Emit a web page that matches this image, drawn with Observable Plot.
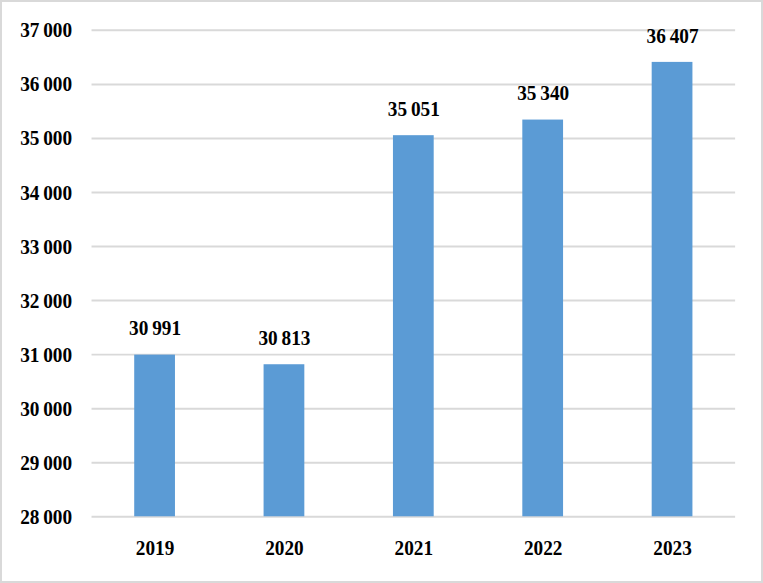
<!DOCTYPE html>
<html>
<head>
<meta charset="utf-8">
<script src="https://cdn.jsdelivr.net/npm/d3@7"></script>
<script src="https://cdn.jsdelivr.net/npm/@observablehq/plot@0.6"></script>
<style>
  html, body { margin: 0; padding: 0; background: #fff; }
  #chart { width: 763px; height: 583px; box-sizing: border-box; border: 2px solid #d9d9d9; position: relative; overflow: hidden; }
  #chart svg { position: absolute; left: -2px; top: -2px; }
</style>
</head>
<body>
<div id="chart"></div>
<script>
const years = ["2019", "2020", "2021", "2022", "2023"];
const values = [30991, 30813, 35051, 35340, 36407];
const yTicks = [28000, 29000, 30000, 31000, 32000, 33000, 34000, 35000, 36000, 37000];
const yBase = 28000;
const yTop = 37000;

const locale = d3.formatLocale({decimal: ",", thousands: "\u2009", grouping: [3], currency: ["", ""]});
const fmt = locale.format(",d");

const data = years.map((y, i) => ({year: y, value: values[i], base: yBase}));

const chart = Plot.plot({
  width: 763,
  height: 583,
  marginLeft: 92,
  marginRight: 24,
  marginTop: 30,
  marginBottom: 64,
  style: {fontFamily: "'Liberation Serif', 'Times New Roman', serif", fontWeight: "bold", fontSize: "22px", color: "#000", background: "#fff"},
  x: {domain: years, paddingInner: 0.685, paddingOuter: 0.33, round: false, label: null},
  y: {domain: [yBase, yTop], label: null},
  marks: [
    Plot.gridY(yTicks, {stroke: "#d9d9d9", strokeWidth: 2, strokeOpacity: 1}),
    Plot.barY(data, {x: "year", y1: "base", y2: "value", fill: "#5b9bd5"}),
    Plot.text(data, {x: "year", y: "value", text: d => fmt(d.value), dy: -27, fontSize: 22, fontWeight: "bold", fill: "#000"}),
    Plot.axisY(yTicks, {tickSize: 0, tickPadding: 20, tickFormat: fmt, fontSize: 22, fontWeight: "bold", fill: "#000"}),
    Plot.axisX({tickSize: 0, tickPadding: 23, fontSize: 22, fontWeight: "bold", fill: "#000"})
  ]
});
// horizontally condense glyphs like the reference typeface
d3.select(chart).selectAll("text").each(function() {
  const t = this.getAttribute("transform");
  if (t) this.setAttribute("transform", t + " scale(0.88,1)");
});
document.getElementById("chart").appendChild(chart);
</script>
</body>
</html>
